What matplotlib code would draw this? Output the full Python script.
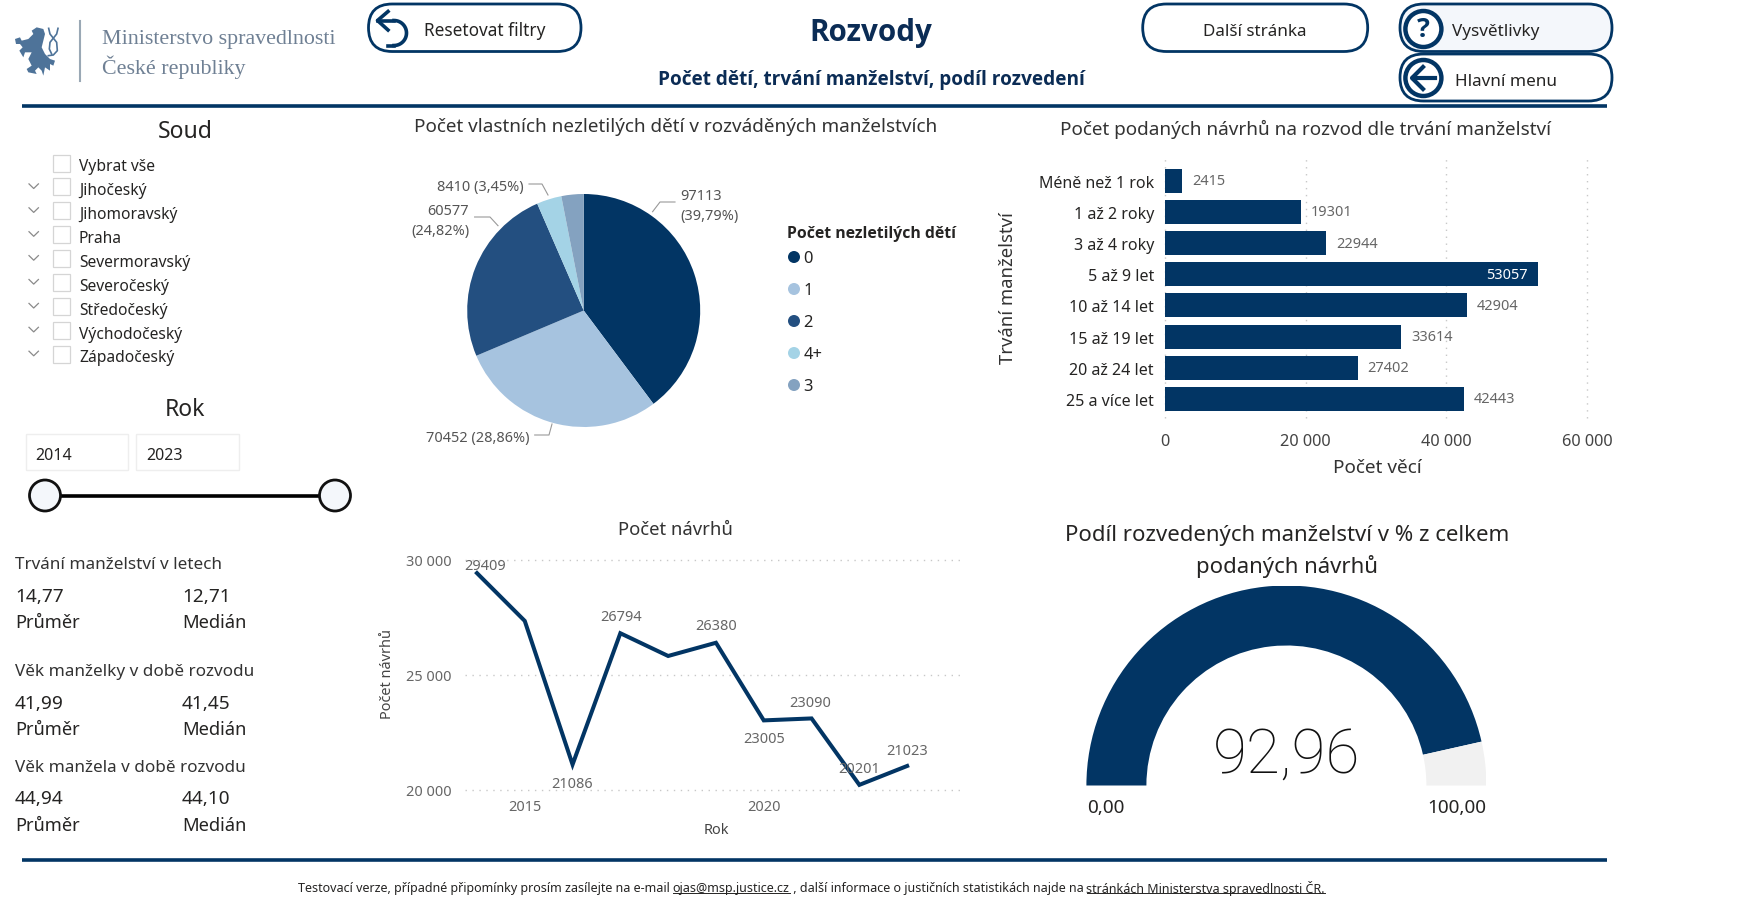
import numpy as np
import matplotlib
matplotlib.use('Agg')
import matplotlib.pyplot as plt
from matplotlib.patches import Circle, FancyBboxPatch, Polygon, Rectangle, Wedge
from matplotlib.ticker import FuncFormatter

W, H = 1738, 904
NAVY = '#023564'
plt.rcParams['font.family'] = ['Noto Sans', 'DejaVu Sans']

# data
courts = ['Vybrat vše', 'Jihočeský', 'Jihomoravský', 'Praha', 'Severmoravský', 'Severočeský',
          'Středočeský', 'Východočeský', 'Západočeský']
kpi_titles = ['Trvání manželství v letech', 'Věk manželky v době rozvodu', 'Věk manžela v době rozvodu']
kpi_mean = ['14,77', '41,99', '44,94']
kpi_median = ['12,71', '41,45', '44,10']

child_cats = ['0', '1', '2', '4+', '3']
child_vals = [97113, 70452, 60577, 8410, 7528]
child_cols = ['#023564', '#A6C3DF', '#234F80', '#A4D3E6', '#84A2C0']

dur_cats = ['Méně než 1 rok', '1 až 2 roky', '3 až 4 roky', '5 až 9 let', '10 až 14 let',
            '15 až 19 let', '20 až 24 let', '25 a více let']
dur_vals = [2415, 19301, 22944, 53057, 42904, 33614, 27402, 42443]

years = [2014, 2015, 2016, 2017, 2018, 2019, 2020, 2021, 2022, 2023]
filings = [29409, 27330, 21086, 26794, 25805, 26380, 23005, 23090, 20201, 21023]
labelled = {2014: (8, 8), 2016: (0, -18.5), 2017: (1, 17), 2019: (0, 17), 2020: (0, -18.4),
            2021: (-1, 16.4), 2022: (0, 16.5), 2023: (0, 15)}

gauge_val = 92.96


def px(size):
    return size * 0.72


def rect(x0, y0, x1, y1):
    return [x0 / W, 1 - y1 / H, (x1 - x0) / W, (y1 - y0) / H]


fig = plt.figure(figsize=(W / 100, H / 100), dpi=100, facecolor='white')
ov = fig.add_axes([0, 0, 1, 1], zorder=0)
ov.set_xlim(0, W)
ov.set_ylim(H, 0)
ov.axis('off')


def txt(x, y, s, size=17, color='#252423', ha='left', **kw):
    return ov.text(x, y + 1.5, s, fontsize=px(size), color=color, ha=ha, va='center', **kw)


def pill(x0, y0, x1, y1, face='white'):
    r = (y1 - y0) / 2
    ov.add_patch(FancyBboxPatch((x0 + r, y0 + r), x1 - x0 - 2 * r, 0,
                                boxstyle=f'round,pad={r},rounding_size={r}',
                                fc=face, ec=NAVY, lw=2.0))


# logo
lion = [(45, 90), (60, 85), (65, 95), (85, 90), (100, 75), (95, 65), (110, 55), (130, 60), (135, 75),
        (130, 95), (125, 115), (135, 135), (150, 150), (165, 155), (160, 170), (150, 165), (150, 185),
        (135, 175), (130, 200), (125, 185), (115, 175), (105, 185), (110, 195), (85, 190), (80, 180),
        (95, 170), (85, 150), (95, 130), (75, 130), (70, 145), (58, 125), (68, 115), (60, 105), (48, 105)]
ov.add_patch(Polygon([(x / 3, y / 3 + 10) for x, y in lion], fc='#4E7399', ec='none'))
tail = [(146, 58), (150, 75), (170, 100), (172, 125), (160, 138), (145, 140)]
tail2 = [(174, 58), (170, 75), (150, 100), (148, 120), (155, 135)]
for t in (tail, tail2):
    ov.plot([p[0] / 3 for p in t], [p[1] / 3 + 10 for p in t], color='#4E7399', lw=1.2)
ov.plot([80, 80], [21.7, 82.3], color='#9AA8B5', lw=1.5)
txt(102.5, 38, 'Ministerstvo spravedlnosti', 22, '#6F8094', family='Liberation Serif')
txt(102.5, 65.5, 'České republiky', 22, '#6F8094', family='Liberation Serif')

# header buttons
pill(368.5, 5, 581, 52.5)
pill(1142.7, 5, 1367.7, 52.5)
pill(1400, 5, 1612, 52.5, '#F4F7FB')
pill(1400, 55, 1612, 102)
txt(424, 30, 'Resetovat filtry', 17.2)
txt(1255, 30, 'Další stránka', 17, ha='center')
txt(1452, 30, 'Vysvětlivky', 17.1)
txt(1455, 80, 'Hlavní menu', 17.1)

# reset icon
a = np.linspace(-np.pi / 2, np.pi / 2, 40)
ov.plot(394 + 12.5 * np.cos(a), 34 + 12.5 * np.sin(a), color=NAVY, lw=2.6)
ov.plot([378, 394], [21.5, 21.5], color=NAVY, lw=2.6)
ov.plot([388, 377.5, 388], [12.5, 21.5, 31], color=NAVY, lw=2.6)
ov.plot([394, 388], [46.5, 46.5], color=NAVY, lw=2.6)

# help and menu icons
for cy in (30, 79):
    ov.add_patch(Circle((1423.4, cy), 18, fc='white', ec=NAVY, lw=3.2))
ov.text(1423.4, 30, '?', fontsize=px(27), fontweight='bold', family='Open Sans', color=NAVY, ha='center', va='center')
ov.plot([1413, 1435], [79, 79], color=NAVY, lw=3)
ov.plot([1423, 1412, 1423], [68, 79, 90], color=NAVY, lw=3)

# titles
txt(871, 31, 'Rozvody', 29.6, '#0B2C55', ha='center', fontweight='bold', family='Open Sans')
txt(871, 78.5, 'Počet dětí, trvání manželství, podíl rozvedení', 19, '#0B2C55', ha='center',
    fontweight='bold', family='Open Sans')

# separators
for y in (106.5, 861):
    ov.plot([22, 1607], [y, y], color=NAVY, lw=2.6, solid_capstyle='butt')

# court slicer
txt(185, 130, 'Soud', 23, ha='center')
for i, name in enumerate(courts):
    y = 165 + i * 23.9
    ov.add_patch(Rectangle((52.5, y - 9.5), 17, 17, fc='white', ec='#D5D5D5', lw=0.9))
    txt(79, y + 0.8, name, 15.6)
    if i:
        ov.plot([29, 33.7, 38.4], [y - 4, y + 0.6, y - 4], color='#8A8A8A', lw=0.9)

# year slicer
txt(185, 408.5, 'Rok', 23, ha='center')
for x0, x1, lab, xt in ((25.7, 128.3, '2014', 35.7), (136, 239, '2023', 146.7)):
    ov.add_patch(Rectangle((x0, 435.3), x1 - x0, 35.7, fc='white', ec='#EEEEEE', lw=1))
    txt(xt, 454.3, lab, 16)
ov.plot([45, 335], [496.5, 496.5], color='black', lw=2.6)
for x in (45, 335):
    ov.add_patch(Circle((x, 496.5), 15.5, fc='#F4F7FB', ec='#111111', lw=2, zorder=3))

# KPI cards
for title, mean, median, yt, yv, yl in zip(kpi_titles, kpi_mean, kpi_median,
                                           (563.5, 670.2, 766.5), (595.5, 702.5, 798), (621.5, 728.5, 824.5)):
    txt(15, yt, title, 17.1, '#333333')
    txt(15, yv, mean, 19)
    txt(15, yl, 'Průměr', 18.3)
    txt(182, yv, median, 19)
    txt(182, yl, 'Medián', 18.3)

# pie
txt(676, 125, 'Počet vlastních nezletilých dětí v rozváděných manželstvích', 18.9, '#333333', ha='center')
ax_pie = fig.add_axes(rect(583.7 - 116.5, 311.5 - 116.5, 583.7 + 116.5, 311.5 + 116.5), zorder=1)
ax_pie.pie(child_vals, colors=child_cols, startangle=90, counterclock=False, radius=1,
           wedgeprops={'lw': 0})
ax_pie.set_xlim(-1, 1)
ax_pie.set_ylim(-1, 1)

total = sum(child_vals)
def pie_label(i):
    return str(child_vals[i]), '(' + f'{child_vals[i] / total * 100:.2f}'.replace('.', ',') + '%)'

t0 = pie_label(0)
t1 = pie_label(1)
t2 = pie_label(2)
t3 = pie_label(3)
txt(680.5, 194.7, t0[0], 14.5, '#555555')
txt(680.5, 215, t0[1], 14.5, '#555555')
txt(529, 436.7, t1[0] + ' ' + t1[1], 14.5, '#555555', ha='right')
txt(469, 210, t2[0], 14.5, '#555555', ha='right')
txt(469, 230, t2[1], 14.5, '#555555', ha='right')
txt(524, 185.7, t3[0] + ' ' + t3[1], 14.5, '#555555', ha='right')
leaders = [[(652.6, 212.7), (660, 203), (675, 203)], [(529, 185), (542, 185), (548, 196)],
           [(474.6, 218), (490, 218), (498, 226.7)], [(534.7, 436), (549, 436), (552, 425)]]
for pts in leaders:
    ov.plot([p[0] for p in pts], [p[1] for p in pts], color='#999999', lw=0.8)

# pie legend
txt(787.3, 233, 'Počet nezletilých dětí', 15.7, fontweight='bold', family='Open Sans')
for i, (c, col) in enumerate(zip(child_cats, child_cols)):
    y = 258 + i * 32
    ov.add_patch(Circle((794, y), 6, fc=col, ec='none'))
    txt(803.5, y, c, 16.5)

# bar chart
txt(1305.5, 127.5, 'Počet podaných návrhů na rozvod dle trvání manželství', 18.9, '#333333', ha='center')
ax_bar = fig.add_axes(rect(1165, 158.5, 1587, 418.5), zorder=1)
ax_bar.patch.set_alpha(0)
pos = np.arange(len(dur_cats))
ax_bar.barh(pos, dur_vals, height=0.77, color=NAVY, zorder=2)
ax_bar.set_xlim(0, 60000)
ax_bar.set_ylim(7.6, -0.75)
ax_bar.set_yticks(pos, dur_cats)
ax_bar.set_xticks([0, 20000, 40000, 60000])
ax_bar.xaxis.set_major_formatter(FuncFormatter(lambda v, _: f'{int(v):,}'.replace(',', ' ')))
ax_bar.tick_params(length=0)
ax_bar.tick_params(axis='y', pad=8, labelsize=px(16), labelcolor='#252423')
ax_bar.tick_params(axis='x', pad=11, labelsize=px(16.3), labelcolor='#444444')
ax_bar.grid(axis='x', color='#C8C8C8', lw=1, ls=(0, (1, 4)), zorder=0)
for g in ax_bar.get_xgridlines():
    g.set_clip_on(False)
for s in ax_bar.spines.values():
    s.set_visible(False)
for p, v in zip(pos, dur_vals):
    if v > 50000:
        ax_bar.annotate(str(v), (v, p), xytext=(-7.2, 0), textcoords='offset points', ha='right',
                        va='center', color='white', fontsize=px(14.5))
    else:
        ax_bar.annotate(str(v), (v, p), xytext=(7.2, 0), textcoords='offset points', ha='left',
                        va='center', color='#666666', fontsize=px(14.5))
ax_bar.set_xlabel('Počet věcí', fontsize=px(19), color='#333333', va='center')
ax_bar.xaxis.set_label_coords(1377, 468.5, transform=ov.transData)
ax_bar.set_ylabel('Trvání manželství', fontsize=px(18.5), color='#333333', va='center')
ax_bar.yaxis.set_label_coords(1008, 288, transform=ov.transData)

# line chart
txt(675.5, 529, 'Počet návrhů', 18.5, '#333333', ha='center')
ax_line = fig.add_axes(rect(465, 560.5, 965, 790.5), zorder=1)
ax_line.patch.set_alpha(0)
ax_line.plot(years, filings, color=NAVY, lw=2.9, solid_joinstyle='miter', clip_on=False, zorder=3)
ax_line.set_xlim(2013.75, 2024.21)
ax_line.set_ylim(20000, 30000)
ax_line.set_xticks([2015, 2020])
ax_line.set_yticks([20000, 25000, 30000])
ax_line.yaxis.set_major_formatter(FuncFormatter(lambda v, _: f'{int(v):,}'.replace(',', ' ')))
ax_line.tick_params(length=0, labelsize=px(14.5), labelcolor='#666666')
ax_line.tick_params(axis='x', pad=7)
ax_line.tick_params(axis='y', pad=9.5)
ax_line.grid(axis='y', color='#C8C8C8', lw=1, ls=(0, (1, 4)), zorder=0)
for g in ax_line.get_ygridlines():
    g.set_clip_on(False)
for s in ax_line.spines.values():
    s.set_visible(False)
for yr, val in zip(years, filings):
    if yr in labelled:
        dx, dy = labelled[yr]
        ax_line.annotate(str(val), (yr, val), xytext=(px(dx), px(dy)), textcoords='offset points',
                         ha='center', va='center', color='#666666', fontsize=px(14.5), zorder=4)
ax_line.set_xlabel('Rok', fontsize=px(14.5), color='#444444', va='center')
ax_line.xaxis.set_label_coords(716, 831, transform=ov.transData)
ax_line.set_ylabel('Počet návrhů', fontsize=px(14.5), color='#444444', va='center')
ax_line.yaxis.set_label_coords(387.5, 674, transform=ov.transData)

# gauge
txt(1286.8, 534, 'Podíl rozvedených manželství v % z celkem', 22.2, ha='center')
txt(1286.8, 565, 'podaných návrhů', 22.2, ha='center')
ax_g = fig.add_axes(rect(1086.4, 586.5, 1486.4, 786.5), zorder=1)
ax_g.set_xlim(-1, 1)
ax_g.set_ylim(0, 1)
ax_g.axis('off')
split = 180 - gauge_val / 100 * 180
ax_g.add_patch(Wedge((0, 0), 1, split, 180, width=0.3, fc=NAVY, ec='none'))
ax_g.add_patch(Wedge((0, 0), 1, 0, split, width=0.3, fc='#F1F1F1', ec='none'))
txt(1286.8, 754, f'{gauge_val:.2f}'.replace('.', ','), 62, '#111111', ha='center', family='Roboto', fontweight='light')
txt(1086.8, 807, '0,00', 19)
txt(1486.4, 807, '100,00', 19, ha='right')

# footer
fig.canvas.draw()
rend = fig.canvas.get_renderer()
parts = [('Testovací verze, případné připomínky prosím zasílejte na e-mail ', False), ('ojas@msp.justice.cz', True),
         (' , další informace o justičních statistikách najde na ', False),
         ('stránkách Ministerstva spravedlnosti ČR.', True)]
x = 297.5
for s, under in parts:
    t = txt(x, 887, s, 12.5, '#252423')
    w = t.get_window_extent(rend).width
    if under:
        ov.plot([x, x + w], [894, 894], color='#252423', lw=0.7)
    x += w

fig.savefig('out.png', dpi=100)
